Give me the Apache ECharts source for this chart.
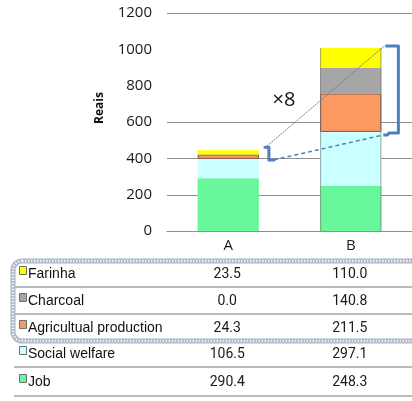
<!DOCTYPE html>
<html>
<head>
<meta charset="utf-8">
<script src="https://cdn.jsdelivr.net/npm/echarts@6/dist/echarts.min.js"></script>
<style>
  html, body { margin: 0; padding: 0; background: #ffffff; }
  #chart { width: 412px; height: 401px; }
</style>
</head>
<body>
<div id="chart"></div>
<script>
// Household income by source, in reais
const categories = ['A', 'B'];
const job = [290.4, 248.3];
const socialWelfare = [106.5, 297.1];
const agricultural = [24.3, 211.5];
const charcoal = [0.0, 140.8];
const farinha = [23.5, 110.0];
const yMin = 0;
const yMax = 1200;
const yStep = 200;
// horizontal rules drawn across the plot
const gridValues = [200, 400, 600, 1200];
const yAxisTitle = 'Reais';
const ratioLabel = '×8';

// Stack order, bottom to top
const stack = [
  { name: 'Job', data: job, color: '#68f79b' },
  { name: 'Social welfare', data: socialWelfare, color: '#ccffff' },
  { name: 'Agricultual production', data: agricultural, color: '#fc9963' },
  { name: 'Charcoal', data: charcoal, color: '#a6a6a6' },
  { name: 'Farinha', data: farinha, color: '#ffff00' }
];
// Table rows, top to bottom
const tableRows = stack.slice().reverse();

const chart = echarts.init(document.getElementById('chart'), null, { renderer: 'canvas' });

const gridColor = '#8f8f8f';

chart.setOption({
  animation: false,
  backgroundColor: '#ffffff',
  grid: { left: 167, top: 13, width: 250, height: 218, containLabel: false },
  xAxis: {
    type: 'category',
    data: categories,
    z: 5,
    axisLine: { show: true, lineStyle: { color: gridColor, width: 1 } },
    axisTick: { show: false },
    axisLabel: { color: '#1a1a1a', fontSize: 15, fontFamily: 'Open Sans', margin: 7 },
    splitLine: { show: false }
  },
  yAxis: {
    type: 'value',
    min: yMin,
    max: yMax,
    interval: yStep,
    axisLine: { show: false },
    axisTick: { show: false },
    axisLabel: { color: '#1a1a1a', fontSize: 15, fontFamily: 'Open Sans', margin: 15, formatter: v => String(v) },
    splitLine: { show: false }
  },
  series: stack.map(s => ({
    name: s.name,
    type: 'bar',
    stack: 'income',
    barWidth: '50%',
    data: s.data,
    itemStyle: s.name === 'Agricultual production'
      ? { color: s.color, borderColor: '#7d5a45', borderWidth: 1 }
      : { color: s.color, borderWidth: 0 }
  }))
});

function px(catIndex, value) {
  return chart.convertToPixel({ gridIndex: 0 }, [catIndex, value]);
}

const sumAt = (i, list) => list.reduce((acc, s) => acc + s.data[i], 0);
const baseSeries = stack.slice(0, 2);
const topSeries = stack;

const pA = px(0, 0), pB = px(1, 0);
const band = pB[0] - pA[0];
const half = band * 0.25;
const plotLeft = pA[0] - band / 2;

const aTop = px(0, sumAt(0, topSeries))[1];
const aBase = px(0, sumAt(0, baseSeries))[1];
const bTop = px(1, sumAt(1, topSeries))[1];
const bBase = px(1, sumAt(1, baseSeries))[1];

const aRight = pA[0] + half;
const bRight = pB[0] + half;
const blue = '#4f7fbf';

const graphics = [];

// horizontal rules behind the bars
gridValues.forEach(v => {
  const y = Math.round(px(0, v)[1]) + 0.5;
  graphics.push({
    type: 'line', shape: { x1: plotLeft, y1: y, x2: 412, y2: y },
    style: { stroke: gridColor, lineWidth: 1 }, z: -1, silent: true
  });
});

// bar outlines on B
graphics.push({
  type: 'line', shape: { x1: pB[0] - half + 0.5, y1: bTop, x2: pB[0] - half + 0.5, y2: pB[1] },
  style: { stroke: 'rgba(110,110,110,0.6)', lineWidth: 1 }, z: 15
});
graphics.push({
  type: 'line', shape: { x1: bRight - 0.5, y1: bTop, x2: bRight - 0.5, y2: pB[1] },
  style: { stroke: 'rgba(110,110,110,0.6)', lineWidth: 1 }, z: 15
});

// axis title
graphics.push({
  type: 'text', x: 100, y: 108, rotation: Math.PI / 2,
  style: { text: yAxisTitle, font: 'bold 12px "Open Sans"', fill: '#111', align: 'center', verticalAlign: 'middle' },
  z: 10
});

// bracket beside A
const xa = aRight + 7;
graphics.push({
  type: 'polyline',
  shape: { points: [[xa - 1, aTop - 3], [xa + 3, aTop - 3], [xa + 3, aBase + 1], [xa + 8, aBase + 1]] },
  style: { stroke: blue, lineWidth: 3, fill: null, lineJoin: 'round', lineCap: 'round' },
  z: 20
});
// bracket beside B
const xb = bRight + 4;
graphics.push({
  type: 'polyline',
  shape: { points: [[xb, bTop - 2], [xb + 13, bTop - 2], [xb + 13, bBase + 1], [xb + 4, bBase + 1], [xb + 2, bBase + 3], [xb - 2, bBase + 3]] },
  style: { stroke: blue, lineWidth: 3, fill: null, lineJoin: 'round' },
  z: 20
});
// connector lines
graphics.push({
  type: 'line',
  shape: { x1: xa + 1, y1: aTop - 4, x2: xb - 1, y2: bTop - 2 },
  style: { stroke: '#5b7fa6', lineWidth: 1, lineDash: [2, 1] },
  z: 19
});
graphics.push({
  type: 'line',
  shape: { x1: xa + 8, y1: aBase + 1, x2: xb - 2, y2: bBase + 3 },
  style: { stroke: blue, lineWidth: 1.5, lineDash: [4, 3] },
  z: 19
});
// ratio label
graphics.push({
  type: 'text', x: 284, y: 100,
  style: { text: ratioLabel, font: '20px "Open Sans"', fill: '#111', align: 'center', verticalAlign: 'middle' },
  z: 20
});

// table background
graphics.push({
  type: 'rect', shape: { x: 0, y: 251, width: 412, height: 150 },
  style: { fill: '#ffffff' }, z: 30
});

const rowY = [273, 300, 327, 353, 381];
const rowLines = [287, 314, 367, 396];
rowLines.forEach(y => {
  graphics.push({
    type: 'line', shape: { x1: 14, y1: y, x2: 412, y2: y },
    style: { stroke: '#a3a3a3', lineWidth: 1.5 }, z: 31
  });
});

tableRows.forEach((row, i) => {
  const y = rowY[i];
  graphics.push({
    type: 'rect', shape: { x: 19.5, y: y - 6.5, width: 7, height: 8 },
    style: { fill: row.color, stroke: '#6f6f6f', lineWidth: 1 }, z: 33
  });
  graphics.push({
    type: 'text', x: 28, y: y + 1,
    style: { text: row.name, font: '14px "Liberation Sans"', fill: '#111', align: 'left', verticalAlign: 'middle' },
    z: 33
  });
  categories.forEach((c, ci) => {
    const cx = px(ci, 0)[0] - 1;
    graphics.push({
      type: 'text', x: cx, y: y + 1,
      style: { text: row.data[ci].toFixed(1), font: '14px Roboto', fill: '#1a1a1a', align: 'center', verticalAlign: 'middle' },
      z: 33
    });
  });
});

// grouped outline around the first three rows
graphics.push({
  type: 'rect', shape: { x: 13, y: 261, width: 410, height: 80, r: 9 },
  style: { fill: null, stroke: '#aab6c7', lineWidth: 5 }, z: 34
});
graphics.push({
  type: 'rect', shape: { x: 13, y: 261, width: 410, height: 80, r: 9 },
  style: { fill: null, stroke: '#eef1f6', lineWidth: 2.5, lineDash: [1.5, 1.5] }, z: 35
});

chart.setOption({ graphic: graphics });
</script>
</body>
</html>
